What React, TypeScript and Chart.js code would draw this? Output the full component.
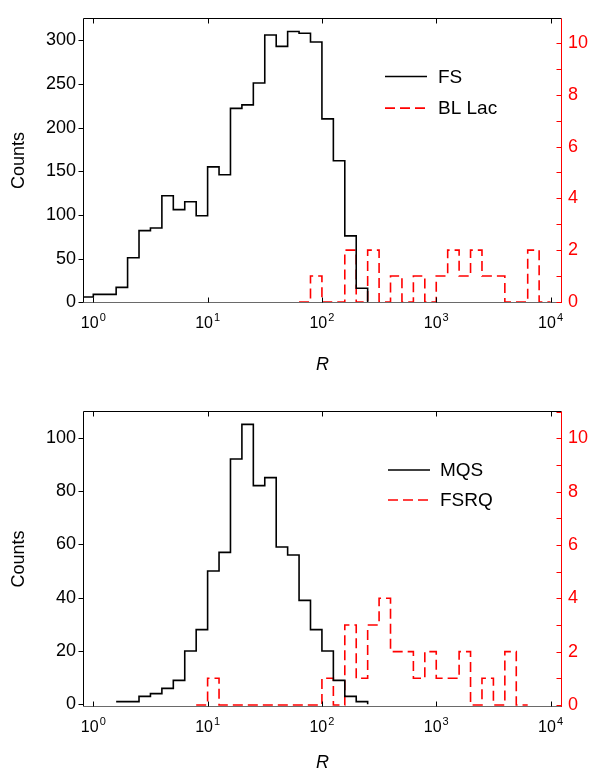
import React, { useEffect, useRef } from 'react';
import { Chart, registerables } from 'chart.js';

Chart.register(...registerables);

const FONT = '"Liberation Sans", Arial, Helvetica, sans-serif';

// ---------------- data: top panel (FS / BL Lac) ----------------
// bins are 0.1 dex wide; arrays give the log10 of each bin's lower edge
const fsBinStartsLog = [-0.1, 0.0, 0.1, 0.2, 0.3, 0.4, 0.5, 0.6, 0.7, 0.8, 0.9, 1.0, 1.1, 1.2, 1.3, 1.4, 1.5, 1.6, 1.7, 1.8, 1.9, 2.0, 2.1, 2.2, 2.3];
const fsLastEdgeLog = 2.4;
const fsCounts = [6, 9, 9, 17, 51, 82, 85, 122, 106, 115, 99, 155, 146, 222, 226, 251, 306, 293, 310, 308, 298, 210, 162, 76, 16];

const blLacBinStartsLog = [1.8, 1.9, 2.0, 2.1, 2.2, 2.3, 2.4, 2.5, 2.6, 2.7, 2.8, 2.9, 3.0, 3.1, 3.2, 3.3, 3.4, 3.5, 3.6, 3.7, 3.8, 3.9];
const blLacLastEdgeLog = 4.0;
const blLacCounts = [0, 1, 0, 0, 2, 0, 2, 0, 1, 0, 1, 0, 1, 2, 1, 2, 1, 1, 0, 0, 2, 0];

// ---------------- data: bottom panel (MQS / FSRQ) ----------------
const mqsBinStartsLog = [0.2, 0.3, 0.4, 0.5, 0.6, 0.7, 0.8, 0.9, 1.0, 1.1, 1.2, 1.3, 1.4, 1.5, 1.6, 1.7, 1.8, 1.9, 2.0, 2.1, 2.2, 2.3];
const mqsLastEdgeLog = 2.4;
const mqsCounts = [1, 1, 3, 4, 6, 9, 20, 28, 50, 57, 92, 105, 82, 85, 59, 56, 39, 28, 20, 9, 3, 1];

const fsrqBinStartsLog = [0.9, 1.0, 1.1, 1.2, 1.3, 1.4, 1.5, 1.6, 1.7, 1.8, 1.9, 2.0, 2.1, 2.2, 2.3, 2.4, 2.5, 2.6, 2.7, 2.8, 2.9, 3.0, 3.1, 3.2, 3.3, 3.4, 3.5, 3.6, 3.7];
const fsrqLastEdgeLog = 3.8;
const fsrqCounts = [0, 1, 0, 0, 0, 0, 0, 0, 0, 0, 0, 1, 0, 3, 1, 3, 4, 2, 2, 1, 2, 1, 1, 2, 0, 1, 0, 2, 0];

// ---------------- axes ----------------
const xTickExponents = [0, 1, 2, 3, 4];
const xMinLog = -0.09;
const xMaxLog = 4.1;
const topLeftStep = 50;
const bottomLeftStep = 20;
const rightStep = 1;

type Hist = { starts: number[]; last: number; counts: number[]; label: string };

interface PanelSpec {
  canvasTop: number;
  canvasHeight: number;
  padTop: number;
  leftWidth: number;
  rightWidth: number;
  xAxisHeight: number;
  titlePadBottom: number;
  yMin: number;
  yMax: number;
  yStep: number;
  y2Min: number;
  y2Max: number;
  legendRow1: number;
  legendRow2: number;
  legendLineX0: number;
  legendLineX1: number;
  legendTextX: number;
  black: Hist;
  red: Hist;
}

// one point per bin's lower edge; Chart.js stepped 'before' draws the
// horizontal run at the earlier point's value, so bin i spans [edge_i, edge_i+1]
function histPoints(h: Hist) {
  const pts = h.starts.map((s, i) => ({ x: Math.pow(10, s), y: h.counts[i] }));
  pts.push({ x: Math.pow(10, h.last), y: 0 });
  return pts;
}

function makeDecorPlugin(spec: PanelSpec) {
  return {
    id: 'decor',
    afterDraw(chart: any) {
      const { ctx, chartArea: a, scales } = chart;
      const xs = scales.x;
      const ys = scales.y;
      const y2s = scales.y2;
      const L = Math.round(a.left) + 0.5;
      const R = Math.round(a.right) - 0.5;
      const T = Math.round(a.top) + 0.5;
      const B = Math.round(a.bottom) - 0.5;
      ctx.save();
      ctx.lineWidth = 1;
      // frame
      ctx.strokeStyle = '#000';
      ctx.beginPath();
      ctx.moveTo(L, T);
      ctx.lineTo(R, T);
      ctx.moveTo(L, T);
      ctx.lineTo(L, B);
      ctx.stroke();
      ctx.strokeStyle = '#6a6a6a';
      ctx.beginPath();
      ctx.moveTo(L, B);
      ctx.lineTo(R, B);
      ctx.stroke();
      ctx.strokeStyle = '#ff0000';
      ctx.beginPath();
      ctx.moveTo(R, T);
      ctx.lineTo(R, B + 0.5);
      ctx.stroke();
      // x ticks (inward, bottom and top)
      ctx.strokeStyle = '#000';
      ctx.beginPath();
      for (const e of xTickExponents) {
        const px = Math.round(xs.getPixelForValue(Math.pow(10, e))) + 0.5;
        ctx.moveTo(px, B);
        ctx.lineTo(px, B - 5);
        ctx.moveTo(px, T);
        ctx.lineTo(px, T + 5);
      }
      ctx.stroke();
      // left ticks (outward)
      ctx.beginPath();
      ys.ticks.forEach((t: any) => {
        const py = Math.round(ys.getPixelForValue(t.value)) + 0.5;
        ctx.moveTo(L - 5, py);
        ctx.lineTo(L, py);
      });
      ctx.stroke();
      // right ticks (inward, red)
      ctx.strokeStyle = '#ff0000';
      ctx.beginPath();
      y2s.ticks.forEach((t: any) => {
        if (Math.abs(t.value - Math.round(t.value)) > 1e-6) return;
        const py = Math.round(y2s.getPixelForValue(t.value)) + 0.5;
        ctx.moveTo(R - 5, py);
        ctx.lineTo(R, py);
      });
      ctx.stroke();
      // x tick labels 10^k
      ctx.fillStyle = '#000';
      ctx.textBaseline = 'middle';
      ctx.textAlign = 'left';
      const baseFont = `16px ${FONT}`;
      const supFont = `11px ${FONT}`;
      for (const e of xTickExponents) {
        const px = xs.getPixelForValue(Math.pow(10, e));
        ctx.font = baseFont;
        const wBase = ctx.measureText('10').width;
        ctx.font = supFont;
        const sup = String(e);
        const wSup = ctx.measureText(sup).width;
        const x0 = px - (wBase + 1 + wSup) / 2;
        const cy = a.bottom + 21;
        ctx.font = baseFont;
        ctx.fillText('10', x0, cy);
        ctx.font = supFont;
        ctx.fillText(sup, x0 + wBase + 1, cy - 6.5);
      }
      // legend
      const dsets = chart.data.datasets;
      const rows = [spec.legendRow1, spec.legendRow2];
      dsets.forEach((ds: any, i: number) => {
        const yy = a.top + rows[i];
        ctx.save();
        ctx.strokeStyle = ds.borderColor;
        ctx.lineWidth = ds.borderWidth;
        ctx.setLineDash(ds.borderDash || []);
        ctx.beginPath();
        ctx.moveTo(a.left + spec.legendLineX0, yy);
        ctx.lineTo(a.left + spec.legendLineX1, yy);
        ctx.stroke();
        ctx.restore();
        ctx.fillStyle = '#000';
        ctx.font = `19px ${FONT}`;
        ctx.textAlign = 'left';
        ctx.textBaseline = 'middle';
        ctx.fillText(ds.label, a.left + spec.legendTextX, yy + 1);
      });
      ctx.restore();
    },
  };
}

function Panel({ spec }: { spec: PanelSpec }) {
  const ref = useRef<HTMLCanvasElement | null>(null);
  useEffect(() => {
    if (!ref.current) return;
    const chart = new Chart(ref.current, {
      type: 'line',
      data: {
        datasets: [
          {
            label: spec.black.label,
            data: histPoints(spec.black),
            yAxisID: 'y',
            borderColor: '#000000',
            borderWidth: 1.6,
            stepped: 'before',
            pointRadius: 0,
            fill: false,
            tension: 0,
          },
          {
            label: spec.red.label,
            data: histPoints(spec.red),
            yAxisID: 'y2',
            borderColor: '#ff0000',
            borderWidth: 1.6,
            borderDash: [10, 5],
            stepped: 'before',
            pointRadius: 0,
            fill: false,
            tension: 0,
          },
        ],
      } as any,
      options: {
        animation: false,
        responsive: false,
        devicePixelRatio: 1,
        layout: { padding: { top: spec.padTop, left: 0, right: 0, bottom: 0 } },
        plugins: { legend: { display: false }, tooltip: { enabled: false } },
        events: [],
        scales: {
          x: {
            type: 'logarithmic',
            position: 'bottom',
            min: Math.pow(10, xMinLog),
            max: Math.pow(10, xMaxLog),
            grid: { display: false, drawTicks: false },
            border: { display: false },
            ticks: { display: false },
            title: {
              display: true,
              text: 'R',
              color: '#000',
              font: { family: FONT, size: 18, style: 'italic' },
              padding: { top: 0, bottom: spec.titlePadBottom },
            },
            afterFit: (s: any) => {
              s.height = spec.xAxisHeight;
            },
          },
          y: {
            type: 'linear',
            position: 'left',
            min: spec.yMin,
            max: spec.yMax,
            grid: { display: false, drawTicks: false },
            border: { display: false },
            ticks: {
              stepSize: spec.yStep,
              includeBounds: false,
              autoSkip: false,
              color: '#000',
              padding: 7,
              font: { family: FONT, size: 18 },
            },
            title: {
              display: true,
              text: 'Counts',
              color: '#000',
              font: { family: FONT, size: 18 },
              padding: { top: 8, bottom: 0 },
            },
            afterFit: (s: any) => {
              s.width = spec.leftWidth;
            },
          },
          y2: {
            type: 'linear',
            position: 'right',
            min: spec.y2Min,
            max: spec.y2Max,
            grid: { display: false, drawTicks: false },
            border: { display: false },
            ticks: {
              stepSize: rightStep,
              includeBounds: false,
              autoSkip: false,
              color: '#ff0000',
              padding: 6,
              font: { family: FONT, size: 18 },
              callback: (v: any) => (Math.round(Number(v)) % 2 === 0 ? String(v) : ''),
            },
            afterFit: (s: any) => {
              s.width = spec.rightWidth;
            },
          },
        },
      } as any,
      plugins: [makeDecorPlugin(spec)],
    });
    return () => chart.destroy();
  }, [spec]);
  return (
    <canvas
      ref={ref}
      width={592}
      height={spec.canvasHeight}
      style={{ position: 'absolute', left: 0, top: spec.canvasTop, width: 592, height: spec.canvasHeight, display: 'block' }}
    />
  );
}

const topSpec: PanelSpec = {
  canvasTop: 0,
  canvasHeight: 385,
  padTop: 8,
  leftWidth: 83,
  rightWidth: 30,
  xAxisHeight: 82,
  titlePadBottom: 9,
  yMin: -0.9,
  yMax: 325.7,
  yStep: topLeftStep,
  y2Min: -0.04,
  y2Max: 10.97,
  legendRow1: 58.7,
  legendRow2: 90.3,
  legendLineX0: 302,
  legendLineX1: 344,
  legendTextX: 355,
  black: { starts: fsBinStartsLog, last: fsLastEdgeLog, counts: fsCounts, label: 'FS' },
  red: { starts: blLacBinStartsLog, last: blLacLastEdgeLog, counts: blLacCounts, label: 'BL Lac' },
};

const bottomSpec: PanelSpec = {
  canvasTop: 385,
  canvasHeight: 400,
  padTop: 26,
  leftWidth: 83,
  rightWidth: 30,
  xAxisHeight: 78,
  titlePadBottom: 11,
  yMin: -1.0,
  yMax: 110.0,
  yStep: bottomLeftStep,
  y2Min: -0.075,
  y2Max: 11.02,
  legendRow1: 59,
  legendRow2: 89,
  legendLineX0: 305,
  legendLineX1: 347,
  legendTextX: 357,
  black: { starts: mqsBinStartsLog, last: mqsLastEdgeLog, counts: mqsCounts, label: 'MQS' },
  red: { starts: fsrqBinStartsLog, last: fsrqLastEdgeLog, counts: fsrqCounts, label: 'FSRQ' },
};

export default function App() {
  return (
    <div style={{ position: 'absolute', left: 0, top: 0, width: 592, height: 770, overflow: 'hidden', background: '#fff' }}>
      <Panel spec={topSpec} />
      <Panel spec={bottomSpec} />
    </div>
  );
}
